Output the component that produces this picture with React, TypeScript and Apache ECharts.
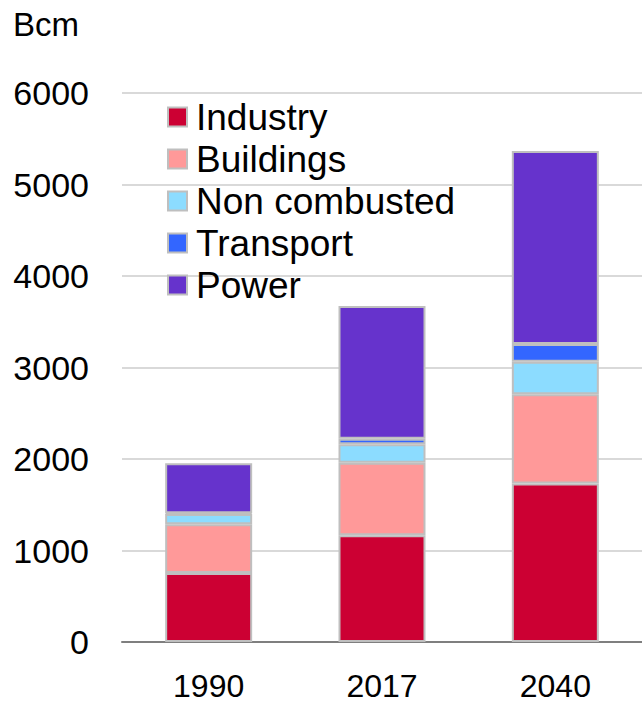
import React, { useEffect, useRef } from "react";
import * as echarts from "echarts";

const categories = ["1990", "2017", "2040"];
const industry = [755, 1168, 1733];
const buildings = [533, 790, 976];
const nonCombusted = [110, 204, 353];
const transport = [10, 58, 194];
const power = [545, 1451, 2110];
const yTicks = [0, 1000, 2000, 3000, 4000, 5000, 6000];

const seriesDefs = [
  { name: "Industry", data: industry, color: "#CC0033" },
  { name: "Buildings", data: buildings, color: "#FF9999" },
  { name: "Non combusted", data: nonCombusted, color: "#8CDCFF" },
  { name: "Transport", data: transport, color: "#3366FF" },
  { name: "Power", data: power, color: "#6633CC" },
];

const FONT = "'Liberation Sans', Arial, Helvetica, sans-serif";

export default function App() {
  const ref = useRef<HTMLDivElement>(null);
  useEffect(() => {
    if (!ref.current) return;
    const chart = echarts.init(ref.current, null, { renderer: "svg" });
    chart.setOption({
      animation: false,
      backgroundColor: "#ffffff",
      textStyle: { fontFamily: FONT },
      grid: { left: 122, top: 93, width: 523, bottom: 60, containLabel: false },
      legend: {
        orient: "vertical",
        left: 167,
        top: 96,
        icon: "rect",
        itemWidth: 19,
        itemHeight: 19,
        itemGap: 0,
        padding: 0,
        textStyle: { fontSize: 37, color: "#000000", fontFamily: FONT, lineHeight: 42, padding: [0, 0, 0, 4] },
        data: seriesDefs.map((s) => s.name),
      },
      xAxis: {
        type: "category",
        data: categories,
        axisLine: { show: true, lineStyle: { color: "#7f7f7f", width: 2 } },
        axisTick: { show: false },
        axisLabel: { fontSize: 32, lineHeight: 26, color: "#000000", margin: 31, fontFamily: FONT },
      },
      yAxis: {
        type: "value",
        min: yTicks[0],
        max: yTicks[yTicks.length - 1],
        interval: 1000,
        axisLine: { show: false },
        axisTick: { show: false },
        splitLine: { show: true, lineStyle: { color: "#d9d9d9", width: 2 } },
        axisLabel: {
          fontSize: 34,
          color: "#000000",
          margin: 33,
          align: "right",
          fontFamily: FONT,
          formatter: (v: number) => String(v),
        },
      },
      graphic: [
        {
          type: "text",
          x: 13,
          y: 24,
          style: { text: "Bcm", font: `33px ${FONT}`, fill: "#000000", verticalAlign: "middle" },
        },
      ],
      series: seriesDefs.map((s) => ({
        name: s.name,
        type: "bar",
        stack: "total",
        barWidth: 87,
        data: s.data,
        itemStyle: { color: s.color, borderColor: "#bfbfbf", borderWidth: 2 },
      })),
    });
    return () => chart.dispose();
  }, []);
  return <div ref={ref} style={{ position: "fixed", left: 0, top: 0, width: 642, height: 702 }} />;
}
